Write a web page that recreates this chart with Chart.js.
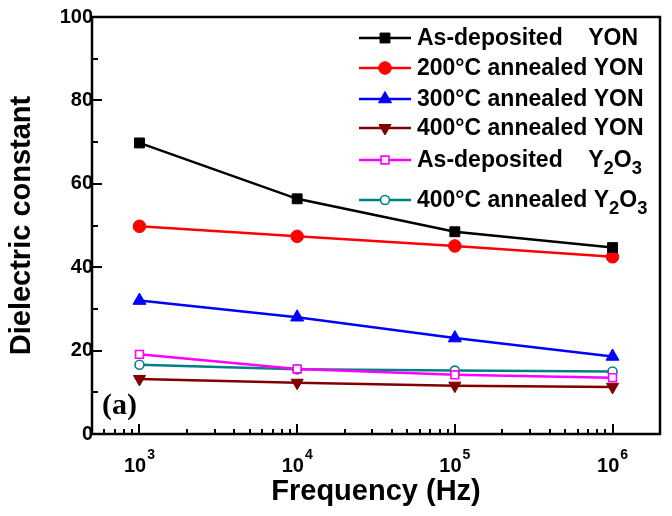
<!DOCTYPE html>
<html><head><meta charset="utf-8">
<script src="https://cdn.jsdelivr.net/npm/chart.js@4.4.0/dist/chart.umd.min.js"></script>
<style>html,body{margin:0;padding:0;background:#fff;}</style>
</head><body>
<canvas id="c" width="672" height="516"></canvas>
<script>
// ---- data ----
const frequencies = [1e3, 1e4, 1e5, 1e6];
const xTickBase = '10';
const xTickExponents = ['3', '4', '5', '6'];
const seriesNames = [
  'As-deposited    YON',
  '200°C annealed YON',
  '300°C annealed YON',
  '400°C annealed YON',
  'As-deposited    Y_2O_3',
  '400°C annealed Y_2O_3'
];
const asDepositedYON = [69.8, 56.4, 48.5, 44.7];
const annealed200YON = [49.8, 47.4, 45.1, 42.5];
const annealed300YON = [32.0, 28.0, 23.0, 18.6];
const annealed400YON = [13.2, 12.3, 11.6, 11.3];
const asDepositedY2O3 = [19.1, 15.6, 14.2, 13.5];
const annealed400Y2O3 = [16.6, 15.5, 15.2, 15.0];

const FONT = '"Liberation Sans", Arial, sans-serif';
const toPts = arr => arr.map((v, i) => ({x: frequencies[i], y: v}));

function ds(name, values, color, style, radius, opts) {
  return Object.assign({
    label: name, data: toPts(values),
    borderColor: color, backgroundColor: color,
    pointBackgroundColor: color, pointBorderColor: color,
    borderWidth: 2.5, pointStyle: style, pointRadius: radius,
    pointBorderWidth: 1, pointRotation: 0, tension: 0, fill: false
  }, opts || {});
}

const datasets = [
  ds(seriesNames[0], asDepositedYON, '#000000', 'rect', 7),
  ds(seriesNames[1], annealed200YON, '#ff0000', 'circle', 6.3),
  ds(seriesNames[2], annealed300YON, '#0000ff', 'triangle', 7.5),
  ds(seriesNames[3], annealed400YON, '#800000', 'triangle', 7, {pointRotation: 180}),
  ds(seriesNames[4], asDepositedY2O3, '#ff00ff', 'rect', 5.5, {pointBackgroundColor: '#ffffff', pointBorderWidth: 1.6}),
  ds(seriesNames[5], annealed400Y2O3, '#008080', 'circle', 4.5, {pointBackgroundColor: '#ffffff', pointBorderWidth: 1.6})
];

function drawRich(ctx, text, x, y, size) {
  const parts = text.split(/_(\d)/);
  let cx = x;
  parts.forEach((p, i) => {
    if (!p) return;
    const sub = i % 2 === 1;
    const fs = sub ? size * 0.8 : size;
    ctx.font = 'bold ' + fs + 'px ' + FONT;
    ctx.fillText(p, cx, sub ? y + 8 : y);
    cx += ctx.measureText(p).width;
  });
}

const decor = {
  id: 'decor',
  afterDraw(chart) {
    const {ctx, chartArea: a} = chart;
    const x = chart.scales.x, y = chart.scales.y;
    ctx.save();
    ctx.strokeStyle = '#000';
    ctx.lineWidth = 2.5;
    ctx.strokeRect(a.left, a.top, a.right - a.left, a.bottom - a.top);
    ctx.lineWidth = 2;
    ctx.beginPath();
    for (let d = 2; d <= 6; d++) {
      for (let k = 1; k <= 9; k++) {
        const v = k * Math.pow(10, d);
        if (v <= x.min * 1.001 || v >= x.max * 0.999) continue;
        const px = Math.round(x.getPixelForValue(v));
        const len = k === 1 ? 10 : 5;
        ctx.moveTo(px, a.bottom); ctx.lineTo(px, a.bottom - len);
      }
    }
    for (let v = 10; v < 100; v += 10) {
      const py = Math.round(y.getPixelForValue(v));
      const len = v % 20 === 0 ? 10 : 6;
      ctx.moveTo(a.left, py); ctx.lineTo(a.left + len, py);
    }
    ctx.stroke();

    // x tick labels (10 with superscript exponent)
    ctx.fillStyle = '#000';
    ctx.textBaseline = 'alphabetic';
    ctx.textAlign = 'left';
    frequencies.forEach((f, i) => {
      const px = x.getPixelForValue(f);
      ctx.font = 'bold 20px ' + FONT;
      const wb = ctx.measureText(xTickBase).width;
      ctx.font = 'bold 14px ' + FONT;
      const we = ctx.measureText(xTickExponents[i]).width;
      const sx = px - (wb + we + 1) / 2;
      ctx.font = 'bold 20px ' + FONT;
      ctx.fillText(xTickBase, sx, a.bottom + 38);
      ctx.font = 'bold 14px ' + FONT;
      ctx.fillText(xTickExponents[i], sx + wb + 1, a.bottom + 25);
    });

    // legend
    const rows = [38, 68, 99, 128, 160, 200];
    chart.data.datasets.forEach((d, i) => {
      const ry = rows[i];
      ctx.strokeStyle = d.borderColor;
      ctx.lineWidth = d.borderWidth;
      ctx.beginPath(); ctx.moveTo(359, ry); ctx.lineTo(411, ry); ctx.stroke();
      ctx.fillStyle = d.pointBackgroundColor;
      ctx.strokeStyle = d.pointBorderColor;
      ctx.lineWidth = d.pointBorderWidth;
      Chart.helpers.drawPoint(ctx, {pointStyle: d.pointStyle, rotation: d.pointRotation,
        radius: d.pointRadius, borderWidth: d.pointBorderWidth}, 385, ry);
      ctx.fillStyle = '#000';
      ctx.textBaseline = 'middle';
      ctx.textAlign = 'left';
      drawRich(ctx, d.label, 417, ry + 1, 23);
    });

    ctx.fillStyle = '#000';
    ctx.font = 'bold 30px "Liberation Serif", "Times New Roman", serif';
    ctx.textBaseline = 'middle';
    ctx.fillText('(a)', 102, 406);
    ctx.restore();
  }
};

new Chart(document.getElementById('c'), {
  type: 'line',
  data: {datasets},
  plugins: [decor],
  options: {
    responsive: false, animation: false, devicePixelRatio: 1,
    layout: {padding: {left: 0, right: 12, top: 17, bottom: 0}},
    plugins: {legend: {display: false}, tooltip: {enabled: false}},
    scales: {
      x: {
        type: 'logarithmic', min: 500, max: 2e6,
        afterBuildTicks: s => { s.ticks = frequencies.map(v => ({value: v})); },
        afterFit: s => { s.height = 82; },
        grid: {display: false, drawTicks: false, tickLength: 0}, border: {display: false},
        ticks: {display: false},
        title: {display: true, text: 'Frequency (Hz)', color: '#000',
          font: {family: FONT, size: 29, weight: 'bold'}, padding: {top: 0, bottom: 7}}
      },
      y: {
        min: 0, max: 100,
        afterFit: s => { s.width = 92; },
        grid: {display: false, drawTicks: false, tickLength: 0}, border: {display: false},
        ticks: {stepSize: 20, padding: -1, color: '#000',
          font: {family: FONT, size: 20, weight: 'bold'}},
        title: {display: true, text: 'Dielectric constant', color: '#000',
          font: {family: FONT, size: 29, weight: 'bold'}, padding: {top: 5, bottom: 0}}
      }
    }
  }
});
</script>
</body></html>
